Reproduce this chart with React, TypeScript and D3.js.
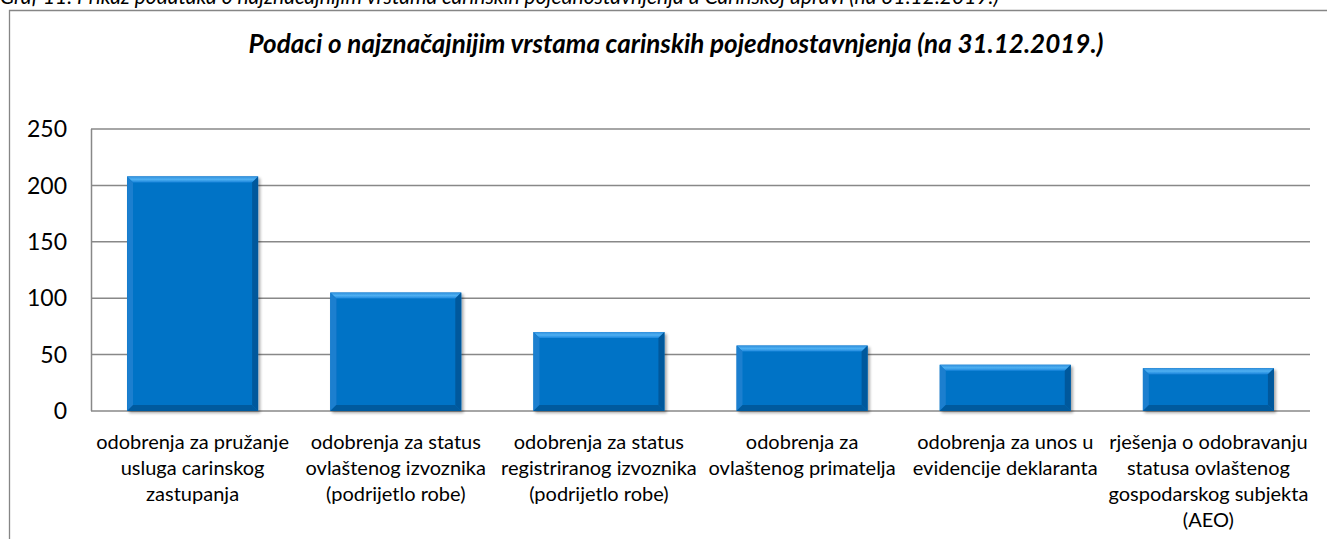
import React, { useEffect } from "react";
import * as d3 from "d3";

// --- data ---
const categories = [
  ["odobrenja za pružanje", "usluga carinskog", "zastupanja"],
  ["odobrenja za status", "ovlaštenog izvoznika", "(podrijetlo robe)"],
  ["odobrenja za status", "registriranog izvoznika", "(podrijetlo robe)"],
  ["odobrenja za", "ovlaštenog primatelja"],
  ["odobrenja za unos u", "evidencije deklaranta"],
  ["rješenja o odobravanju", "statusa ovlaštenog", "gospodarskog subjekta", "(AEO)"],
];
const values = [208, 105, 70, 58, 41, 38];
const yTicks = [0, 50, 100, 150, 200, 250];

const caption =
  "Graf 11. Prikaz podataka o najznačajnijim vrstama carinskih pojednostavnjenja u Carinskoj upravi (na 31.12.2019.)";
const title = "Podaci o najznačajnijim vrstama carinskih pojednostavnjenja (na 31.12.2019.)";

const W = 1327;
const H = 539;
const font = "Lato, 'Open Sans', sans-serif";

export default function App() {
  useEffect(() => {
    document.body.style.margin = "0";
  }, []);

  const keys = categories.map((c) => c.join(" "));
  const x = d3
    .scaleBand<string>()
    .domain(keys)
    .range([91, 1310])
    .paddingInner(0.355)
    .paddingOuter(0.1775);
  const y = d3.scaleLinear().domain([0, 250]).range([411, 129]);
  const bw = x.bandwidth();
  const bev = 6;

  return (
    <svg width={W} height={H} style={{ display: "block" }}>
      <defs>
        <linearGradient id="topBevel" x1="0" y1="0" x2="0" y2="1">
          <stop offset="0" stopColor="#2f8fdc" />
          <stop offset="0.5" stopColor="#4fb0f2" />
          <stop offset="1" stopColor="#1a86dc" />
        </linearGradient>
        <filter id="shadow" x="-10%" y="-10%" width="130%" height="130%">
          <feGaussianBlur in="SourceAlpha" stdDeviation="1.5" />
          <feOffset dx="1.5" dy="1.5" result="b" />
          <feComponentTransfer>
            <feFuncA type="linear" slope="0.35" />
          </feComponentTransfer>
          <feMerge>
            <feMergeNode />
            <feMergeNode in="SourceGraphic" />
          </feMerge>
        </filter>
      </defs>
      <rect width={W} height={H} fill="#fff" />

      {/* figure caption, cut off at the top in the original */}
      <text x={0} y={4} fontFamily={font} fontStyle="italic" fontSize={21} fill="#000">
        {caption}
      </text>

      {/* chart border */}
      <path d={`M9.5,${H + 2}V10.5H${W + 2}`} fill="none" stroke="#868686" strokeWidth={1.3} />

      <text
        x={676}
        y={53}
        textAnchor="middle"
        fontFamily={font}
        fontStyle="italic"
        fontWeight="bold"
        fontSize={26}
        fill="#000"
      >
        {title}
      </text>

      {/* gridlines */}
      {yTicks.map((t) => (
        <g key={t}>
          <line x1={91} x2={1310} y1={y(t)} y2={y(t)} stroke="#888" strokeWidth={1.5} />
          <text
            x={67}
            y={y(t)}
            dy="0.36em"
            textAnchor="end"
            fontFamily={font}
            fontSize={23}
            fill="#000"
          >
            {t}
          </text>
        </g>
      ))}
      <line x1={91.5} x2={91.5} y1={y(250)} y2={y(0)} stroke="#888" strokeWidth={1.5} />

      {/* bars */}
      {values.map((v, i) => {
        const x0 = x(keys[i])!;
        const x1 = x0 + bw;
        const y0 = y(v);
        const y1 = y(0);
        return (
          <g key={i} filter="url(#shadow)">
            <rect x={x0} y={y0} width={bw} height={y1 - y0} fill="#0673c6" />
            <polygon
              points={`${x0},${y0} ${x1},${y0} ${x1 - bev},${y0 + bev} ${x0 + bev},${y0 + bev}`}
              fill="url(#topBevel)"
            />
            <polygon
              points={`${x0},${y0} ${x0 + bev},${y0 + bev} ${x0 + bev},${y1 - bev} ${x0},${y1}`}
              fill="#1a7fcf"
            />
            <polygon
              points={`${x1},${y0} ${x1},${y1} ${x1 - bev},${y1 - bev} ${x1 - bev},${y0 + bev}`}
              fill="#05599c"
            />
            <polygon
              points={`${x0},${y1} ${x0 + bev},${y1 - bev} ${x1 - bev},${y1 - bev} ${x1},${y1}`}
              fill="#055a9e"
            />
          </g>
        );
      })}

      {/* category labels */}
      {categories.map((lines, i) => (
        <text
          key={i}
          x={x(keys[i])! + bw / 2}
          y={449}
          textAnchor="middle"
          fontFamily={font}
          fontSize={20}
          fill="#000"
        >
          {lines.map((l, j) => (
            <tspan key={j} x={x(keys[i])! + bw / 2} dy={j === 0 ? 0 : 26}>
              {l}
            </tspan>
          ))}
        </text>
      ))}
    </svg>
  );
}
